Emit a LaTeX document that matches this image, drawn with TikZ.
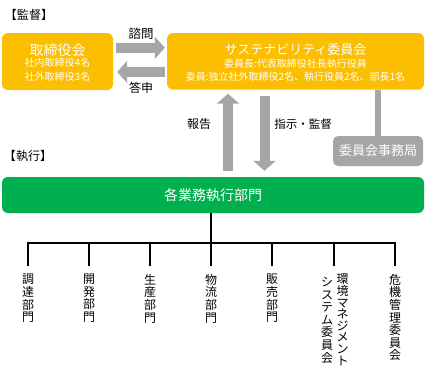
\documentclass[tikz,border=0pt]{standalone}
\usepackage{fontspec}
\setmainfont{Noto Sans CJK JP}
\usetikzlibrary{arrows.meta}
\definecolor{gold}{RGB}{252,190,0}
\definecolor{grn}{RGB}{0,176,80}
\definecolor{gry}{RGB}{166,166,166}
\newcommand{\fsz}[2]{\fontsize{#1}{#2}\selectfont}
\begin{document}
\begin{tikzpicture}[x=1pt,y=-1pt,
  box/.style={rounded corners=6pt, inner sep=0pt, draw=none},
  wt/.style={text=white, inner sep=0pt},
  lbl/.style={text=black, inner sep=0pt, font=\fsz{12}{14}},
  blk/.style={draw=gry, line width=10pt, -{Triangle[width=22pt,length=10pt]}},
  tree/.style={draw=black, line width=1.4pt},
  vt/.style={inner sep=0pt, align=center, anchor=north, font=\fsz{12}{12.6}}]
\useasboundingbox (0,0) rectangle (427,378);
% section labels
\node[lbl] (kansa) at (29,15) {【監督】};
\node[lbl] (shikko) at (28,156) {【執行】};
% board
\node[box, fill=gold, minimum width=111pt, minimum height=57pt] (board) at (57.5,61.5) {};
\node[wt, font=\fsz{14}{16}] (boardT) at (57.5,50) {取締役会};
\node[wt, font=\fsz{10}{12}] (boardA) at (57.5,63) {社内取締役4名};
\node[wt, font=\fsz{10}{12}] (boardB) at (57.5,77) {社外取締役3名};
% sustainability committee
\node[box, fill=gold, minimum width=257pt, minimum height=56.5pt] (sus) at (295.5,61.25) {};
\node[wt, font=\fsz{13}{15}] (susT) at (295.5,50) {サステナビリティ委員会};
\node[wt, font=\fsz{10}{12}] (susA) at (295.5,64) {委員長:代表取締役社長執行役員};
\node[wt, font=\fsz{10}{12}] (susB) at (295.5,77) {委員:独立社外取締役2名、執行役員2名、部長1名};
% horizontal arrows
\draw[blk, shorten <=3pt, shorten >=2pt] ([yshift=13.5pt]board.east) -- ([yshift=13.5pt]sus.west);
\draw[blk, shorten <=2pt, shorten >=4pt] ([yshift=-10.5pt]sus.west) -- ([yshift=-10.5pt]board.east);
\node[lbl, font=\fsz{12.5}{14}] (shimon) at (141,33.5) {諮問};
\node[lbl] (toshin) at (141,87.5) {答申};
% secretariat
\node[box, rounded corners=5pt, fill=gry, minimum width=90pt, minimum height=30pt] (jim) at (378,151) {};
\node[wt, font=\fsz{13}{15}] (jimT) at (378,151) {委員会事務局};
\coordinate (jx) at (378,0);
\draw[gry, line width=6pt] (jx |- sus.south) -- (jx |- jim.north);
% green
\node[box, fill=grn, minimum width=422pt, minimum height=36pt] (green) at (213,195) {};
\node[wt, font=\fsz{14}{16}] (greenT) at (213,195) {各業務執行部門};
% vertical arrows
\coordinate (ua) at (228,0);
\coordinate (da) at (264.5,0);
\draw[blk, shorten <=6pt, shorten >=4pt] (ua |- green.north) -- (ua |- sus.south);
\draw[blk, shorten <=6pt, shorten >=6pt] (da |- sus.south) -- (da |- green.north);
\node[lbl] (hokoku) at (199,124) {報告};
\node[lbl, font=\fsz{11.5}{14}] (shiji) at (303,124) {指示・監督};
% departments
\node[vt] (d1) at (28,274) {調\\達\\部\\門};
\node[vt] (d2) at (89,274) {開\\発\\部\\門};
\node[vt] (d3) at (150,274) {生\\産\\部\\門};
\node[vt] (d4) at (211,274) {物\\流\\部\\門};
\node[vt] (d5) at (272,274) {販\\売\\部\\門};
\coordinate (d6) at (334,274);
\node[vt, font=\fsz{12}{11.6}] (d6a) at (342.5,274) {環\\境\\マ\\ネ\\ジ\\メ\\ン\\ト};
\node[vt] (d6b) at (327,277) {シ\\ス\\テ\\ム\\委\\員\\会};
\node[vt] (d7) at (395,274) {危\\機\\管\\理\\委\\員\\会};
\coordinate (bar) at (0,243);
\draw[tree] (d4.north |- green.south) -- (d4.north |- bar);
\draw[tree] ([xshift=-0.7pt]d1.north |- bar) -- ([xshift=0.7pt]d7.north |- bar);
\foreach \d in {d1,d2,d3,d4,d5,d6,d7}
  \draw[tree] (\d.north |- bar) -- ++(0,23);
\end{tikzpicture}
\end{document}
